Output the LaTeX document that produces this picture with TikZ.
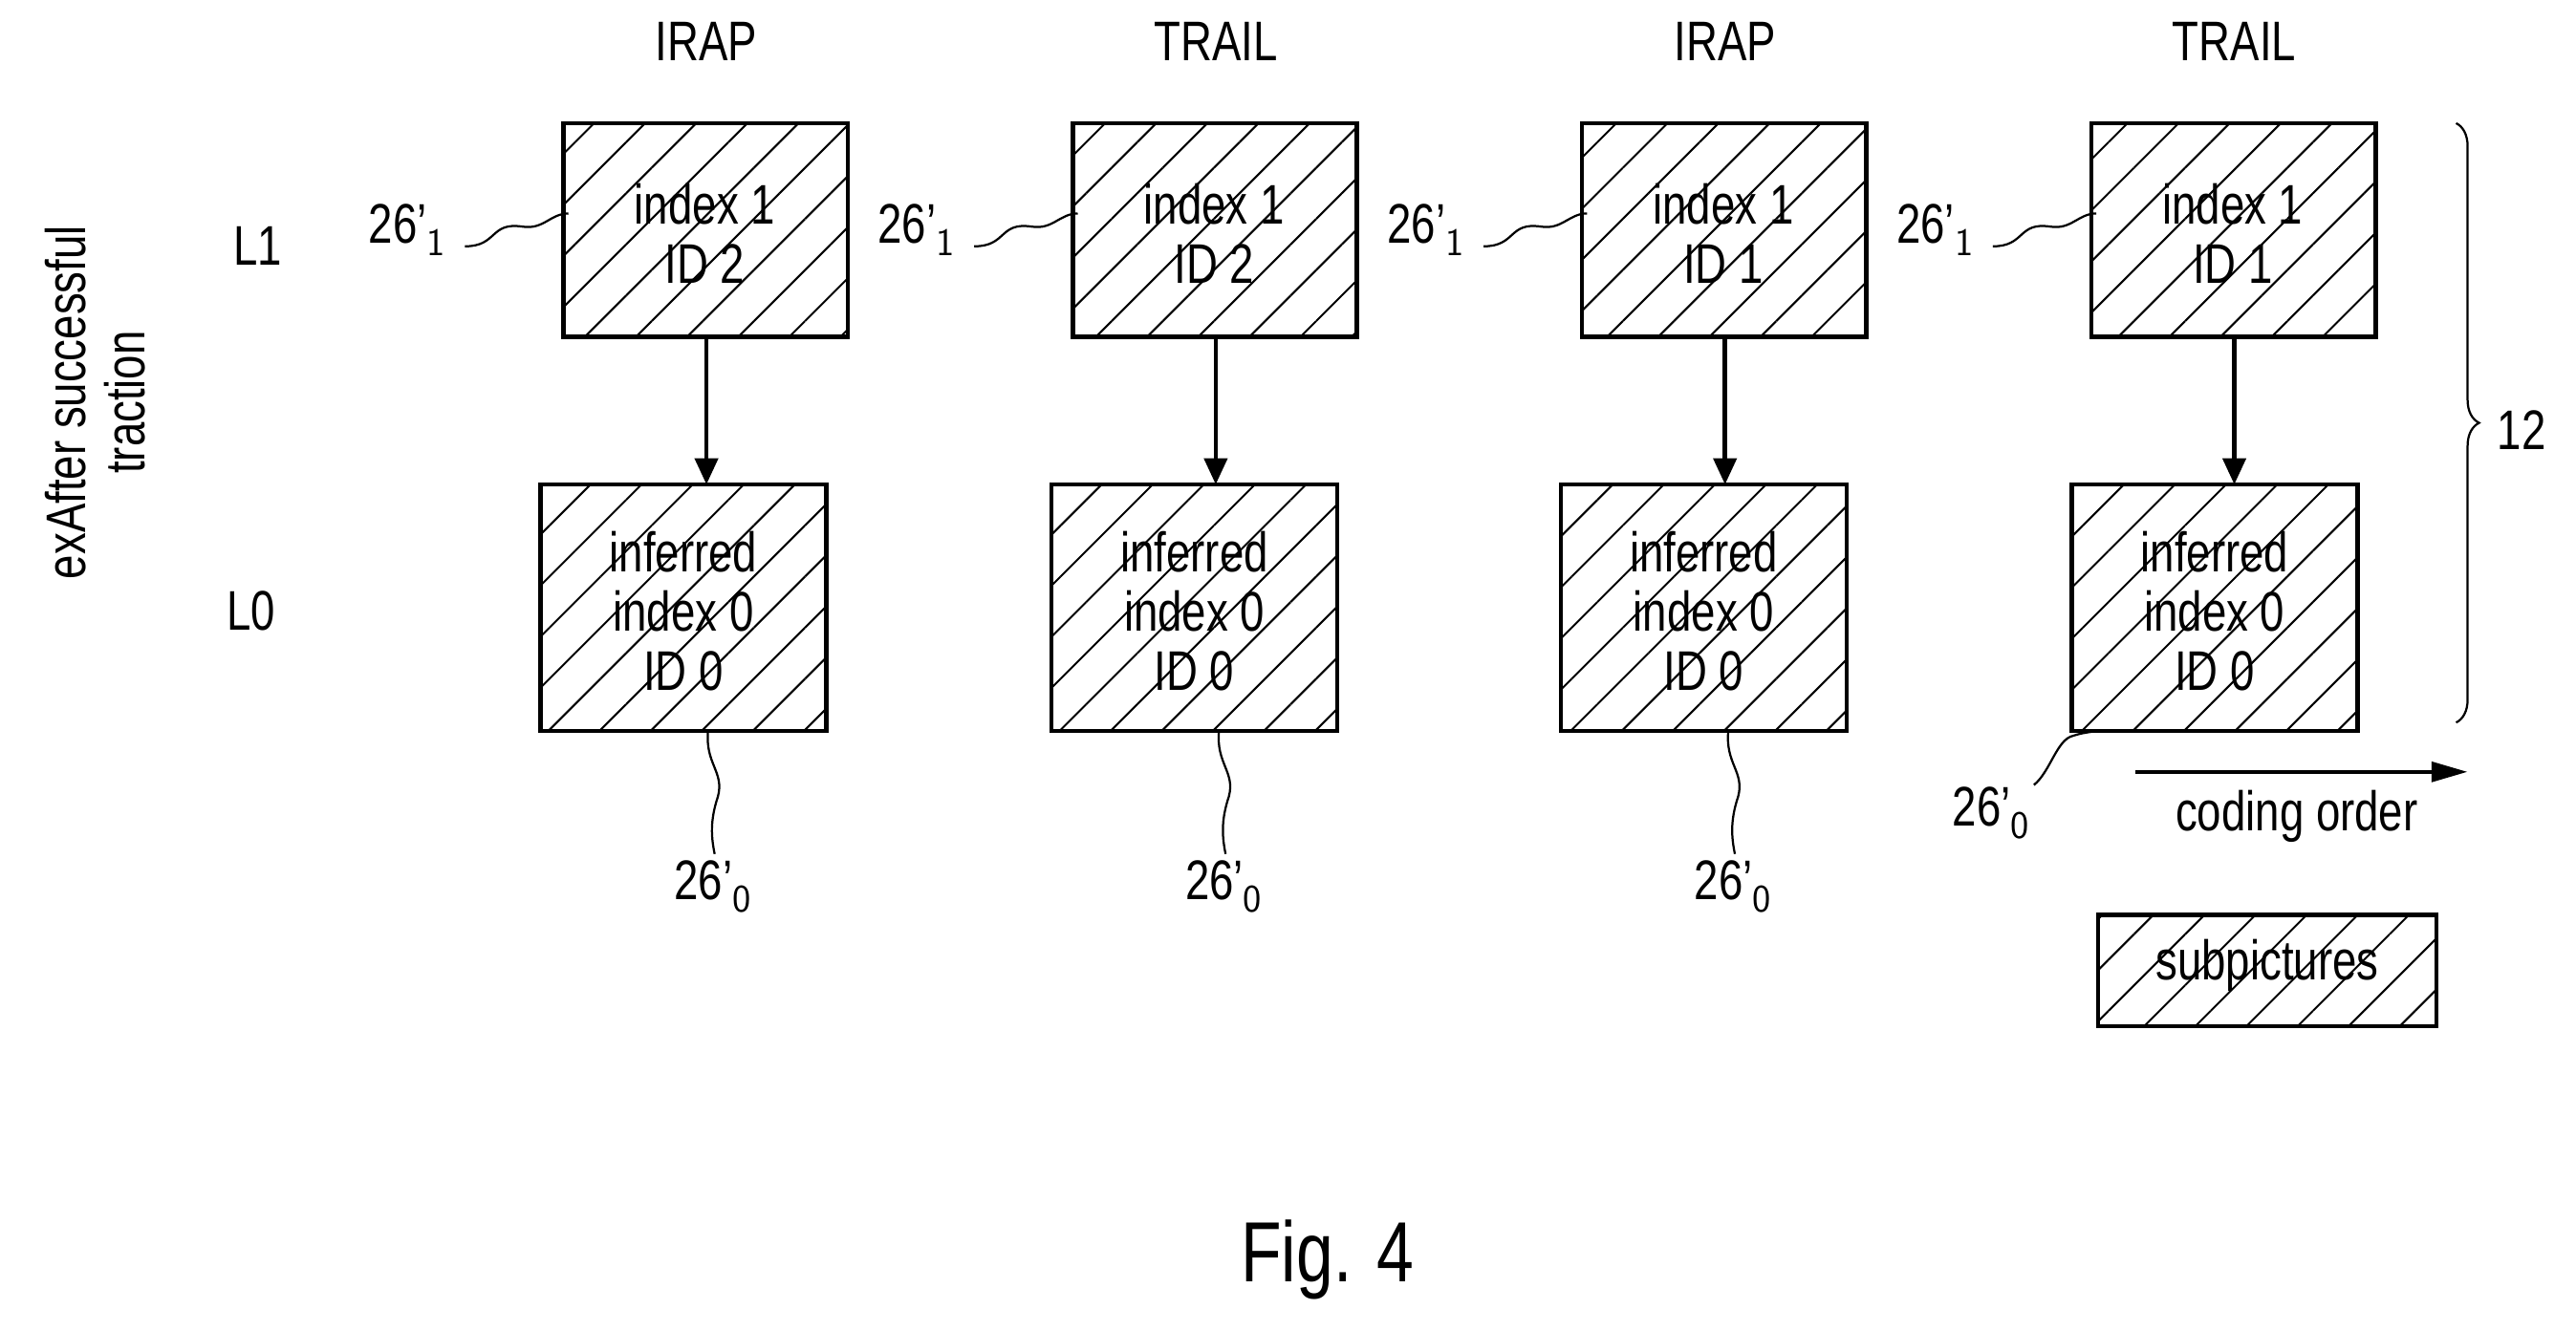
\documentclass[tikz,border=0pt]{standalone}
\usepackage{fontspec}
\setmainfont[FakeStretch=0.78]{Liberation Sans}
\usetikzlibrary{patterns.meta,decorations.pathreplacing,arrows.meta}
\begin{document}
\begin{tikzpicture}[x=1pt,y=-1pt,
  box/.style={draw,line width=2.6pt,pattern={Lines[angle=45,distance=22pt,line width=1.2pt]},inner sep=0},
  txt/.style={font=\fontsize{34}{40}\selectfont,align=center},
  lbl/.style={font=\fontsize{34}{40}\selectfont},
  lead/.style={line width=1.3pt},
  arr/.style={line width=2.6pt,-{Triangle[length=16pt,width=14pt]}}]
\useasboundingbox (0,0) rectangle (1568,810);
\foreach \i/\xa/\xb/\h/\id in {1/343/329/IRAP/2,2/653/640/TRAIL/2,3/963/950/IRAP/1,4/1273/1261/TRAIL/1}{
  \draw[box] (\xa,75) rectangle (\xa+173,205);
  \node[txt] (t\i) at (\xa+86,142) {index 1\\[-4pt]ID \id};
  \draw[box] (\xb,295) rectangle (\xb+174,445);
  \node[txt] (b\i) at (\xb+87,372) {inferred\\[-4pt]index 0\\[-4pt]ID 0};
  \node[lbl] (h\i) at (\xa+87,25) {\h};
  \coordinate (ts\i) at (\xa+87,205);
  \coordinate (te\i) at (\xa+87,295);
  \draw[arr] (ts\i) -- (te\i);
  \node[lbl] (l\i) at (\xa-95,140) {26'$_{\mathsf{1}}$};
  \coordinate (lc\i) at (\xa+3,130);
  \draw[lead] (\xa-60,150) .. controls (\xa-40,150) and (\xa-45,135) .. (\xa-25,138) .. controls (\xa-12,140) and (\xa-8,130) .. (lc\i);
}
\foreach \i/\xb in {1/329,2/640,3/950}{
  \node[lbl] (z\i) at (\xb+105,540) {26'$_{\mathsf{0}}$};
  \coordinate (zb\i) at (\xb+102,445);
  \draw[lead] (zb\i) .. controls (\xb+100,465) and (\xb+112,470) .. (\xb+108,485) .. controls (\xb+103,500) and (\xb+104,510) .. (\xb+106,520);
}
\node[lbl] (z4) at (1212,495) {26'$_{\mathsf{0}}$};
\coordinate (zb4) at (1276,445);
\draw[lead] (1238,478) .. controls (1248,470) and (1252,450) .. (1262,448) .. controls (1268,446) and (1272,446) .. (zb4);
\node[lbl] (L1) at (157,150) {L1};
\node[lbl] (L0) at (153,372) {L0};
\node[lbl,rotate=90,align=center] (side) at (58,245) {exAfter successful\\[-4pt]traction};
\draw[line width=1.3pt,decorate,decoration={brace,amplitude=14pt}] (1495,75) -- (1495,440);
\node[lbl] (n12) at (1535,262) {12};
\coordinate (c1) at (1300,470);
\coordinate (c2) at (1502,470);
\draw[line width=2.6pt,-{Triangle[length=22pt,width=12pt]}] (c1) -- (c2);
\node[lbl] (co) at (1398,497) {coding order};
\draw[box] (1277,557) rectangle (1483,625);
\node[lbl] (sp) at (1380,588) {subpictures};
\node[font=\fontsize{52}{60}\selectfont] (fig) at (808,767) {Fig. 4};
\end{tikzpicture}
\end{document}
